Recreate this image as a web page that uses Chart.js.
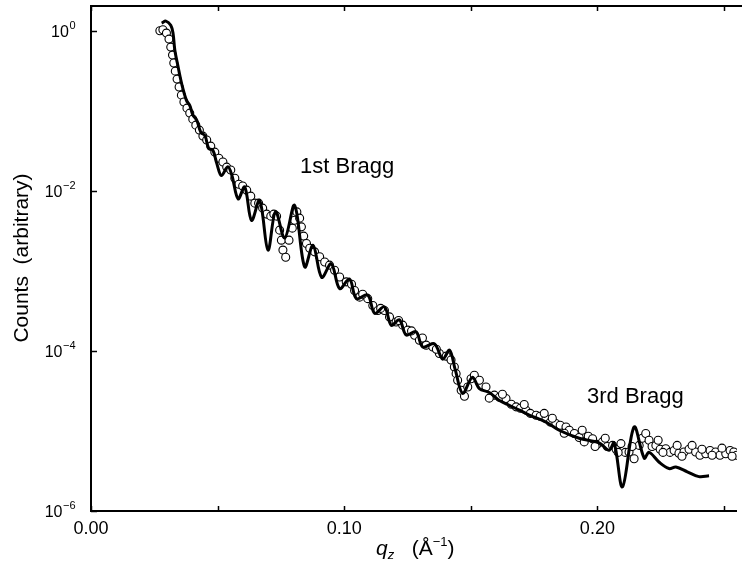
<!DOCTYPE html>
<html>
<head>
<meta charset="utf-8">
<script src="https://cdn.jsdelivr.net/npm/chart.js@4.4.1/dist/chart.umd.min.js"></script>
<style>
html, body { margin:0; padding:0; background:#fff; }
#wrap { position:relative; width:742px; height:564px; }
</style>
</head>
<body>
<div id="wrap"><canvas id="c" width="742" height="564"></canvas></div>
<script>
// measured reflectivity (open circles)
const qData = [
	0.0272,0.0284,0.0298,0.0308,0.0315,0.0322,0.0327,0.0333,0.0340,0.0348,
	0.0357,0.0367,0.0379,0.0390,0.0402,0.0414,0.0428,0.0442,0.0457,0.0473,
	0.0489,0.0505,0.0521,0.0536,0.0552,0.0568,0.0584,0.0599,0.0615,0.0631,
	0.0647,0.0662,0.0678,0.0694,0.0710,0.0722,0.0733,0.0745,0.0752,0.0758,
	0.0769,0.0782,0.0795,0.0804,0.0813,0.0824,0.0831,0.0840,0.0851,0.0864,
	0.0883,0.0903,0.0923,0.0942,0.0962,0.0982,0.1008,0.1029,0.1041,0.1061,
	0.1093,0.1113,0.1133,0.1159,0.1179,0.1205,0.1231,0.1251,0.1278,0.1297,
	0.1324,0.1350,0.1376,0.1403,0.1422,0.1435,0.1442,0.1448,0.1462,0.1475,
	0.1488,0.1501,0.1514,0.1534,0.1560,0.1593,0.1613,0.1639,0.1660,0.1679,
	0.1696,0.1718,0.1735,0.1758,0.1774,0.1797,0.1814,0.1836,0.1853,0.1876,
	0.1889,0.1909,0.1928,0.1948,0.1964,0.1981,0.1999,0.2020,0.2039,0.2060,
	0.2074,0.2093,0.2110,0.2125,0.2145,0.2165,0.2177,0.2191,0.2204,0.2216,
	0.2231,0.2248,0.2270,0.2287,0.2303,0.2322,0.2342,0.2362,0.2388,0.2405,
	0.2428,0.2445,0.2467,0.2484,0.2507,0.2524,0.2539,0.2550,
	// second row of the scattered band
	0.1073,0.1144,0.1215,0.1266,0.1309,0.1364,
	0.1573,0.1625,0.1711,0.1790,0.1822,0.1869,0.1940,0.1991,0.2031,0.2082,
	0.2137,0.2240,0.2259,0.2315,0.2334,0.2374,0.2413,0.2453,0.2492,0.2532
];
const countsData = [
	1.0,1.03,0.936,0.787,0.625,0.497,0.395,0.313,0.249,0.198,
	0.157,0.129,0.108,0.0936,0.0787,0.0662,0.0574,0.0483,0.0431,0.0362,
	0.0305,0.0256,0.0229,0.0198,0.0182,0.0144,0.0121,0.0115,0.0102,0.00859,
	0.00702,0.00702,0.00608,0.00512,0.00483,0.00512,0.00483,0.00323,0.00242,0.00182,
	0.00148,0.00242,0.00342,0.0043,0.00546,0.00456,0.00355,0.00272,0.0022,0.00192,
	0.00173,0.0015,0.00129,0.00118,0.00102,8.4e-4,7.3e-4,6.8e-4,5.7e-4,4.7e-4,
	4.5e-4,3.7e-4,3.2e-4,3.2e-4,2.66e-4,2.3e-4,2.1e-4,1.82e-4,1.57e-4,1.36e-4,
	1.18e-4,1.12e-4,9.3e-5,8.6e-5,7.7e-5,6.3e-5,5.2e-5,4.3e-5,3.23e-5,2.72e-5,
	3.55e-5,4.5e-5,4.97e-5,4.3e-5,3.55e-5,2.8e-5,2.64e-5,2.54e-5,2.16e-5,2.0e-5,
	1.92e-5,1.82e-5,1.66e-5,1.57e-5,1.53e-5,1.43e-5,1.29e-5,1.24e-5,1.18e-5,1.12e-5,
	1.02e-5,9.3e-6,8.3e-6,7.3e-6,8.6e-6,8.0e-6,6.8e-6,7.3e-6,6.4e-6,6.6e-6,
	5.9e-6,6.95e-6,5.4e-6,5.46e-6,4.5e-6,6.6e-6,8.1e-6,9.3e-6,7.65e-6,6.4e-6,
	6.6e-6,5.9e-6,6.0e-6,5.4e-6,5.7e-6,5.26e-6,5.46e-6,5.9e-6,5.46e-6,4.97e-6,
	5.2e-6,5.7e-6,5.46e-6,4.97e-6,5.2e-6,5.7e-6,5.46e-6,4.97e-6,
	5.1e-4,3.4e-4,2.4e-4,1.78e-4,1.45e-4,1.05e-4,
	2.57e-5,2.88e-5,2.14e-5,1.66e-5,1.44e-5,9.35e-6,1.02e-5,6.4e-6,8.1e-6,5.4e-6,
	6.4e-6,7.65e-6,5.4e-6,6.6e-6,4.83e-6,6.6e-6,5.9e-6,4.97e-6,6.1e-6,4.83e-6
];

// model fit (solid line)
const qFit = [
	0.0279,0.0296,0.0315,0.0324,0.0331,0.0344,0.0358,0.0377,0.0390,0.0402,
	0.0418,0.0434,0.0450,0.0465,0.0481,0.0497,0.0515,0.0540,0.0556,0.0581,
	0.0607,0.0634,0.0666,0.0699,0.0729,0.0765,0.0804,0.0844,0.0877,0.0911,
	0.0949,0.0982,0.1021,0.1048,0.1093,0.1120,0.1159,0.1186,0.1218,0.1245,
	0.1284,0.1310,0.1356,0.1389,0.1416,0.1439,0.1468,0.1506,0.1534,0.1573,
	0.1613,0.1652,0.1692,0.1731,0.1797,0.1849,0.1928,0.2007,0.2046,0.2066,
	0.2099,0.2145,0.2185,0.2204,0.2244,0.2283,0.2310,0.2355,0.2401,0.2441
];
const countsFit = [
	1.25,1.32,1.17,0.933,0.575,0.355,0.219,0.135,0.117,0.0891,
	0.0759,0.0537,0.049,0.0339,0.0324,0.0219,0.0155,0.020,0.0158,0.00794,
	0.0112,0.00427,0.00759,0.00182,0.0055,0.00257,0.0066,0.00112,0.00209,8.3e-4,
	1.23e-3,6.0e-4,7.9e-4,4.5e-4,5.0e-4,2.95e-4,3.55e-4,2.09e-4,2.45e-4,1.58e-4,
	1.74e-4,1.12e-4,1.23e-4,7.9e-5,1.02e-4,5.75e-5,2.95e-5,4.68e-5,3.39e-5,3.02e-5,
	2.4e-5,2.09e-5,1.82e-5,1.58e-5,1.29e-5,1.02e-5,8.1e-6,7.1e-6,5.75e-6,7.1e-6,
	2.0e-6,1.12e-5,4.57e-6,5.4e-6,4.07e-6,3.39e-6,3.55e-6,3.09e-6,2.69e-6,2.75e-6
];

const xTicks = [0, 0.05, 0.10, 0.15, 0.20, 0.25];
const xTickLabels = ['0.00', '', '0.10', '', '0.20', ''];
const yTicks = [1e-6, 1e-4, 1e-2, 1];
const yTickExp = ['\u22126', '\u22124', '\u22122', '0'];

const FONT = '"Liberation Sans", Arial, Helvetica, sans-serif';

const frame = {
	id: 'frame',
	afterDraw(chart) {
		const {ctx, chartArea: a, scales: {x, y}} = chart;
		ctx.save();
		ctx.strokeStyle = '#000';
		ctx.fillStyle = '#000';

		// top frame line
		ctx.lineWidth = 2;
		ctx.beginPath(); ctx.moveTo(a.left - 1, a.top); ctx.lineTo(742, a.top); ctx.stroke();

		// inward ticks
		ctx.lineWidth = 1.5;
		xTicks.forEach(v => {
			const px = Math.round(x.getPixelForValue(v)) + 0.5;
			ctx.beginPath();
			ctx.moveTo(px, a.bottom); ctx.lineTo(px, a.bottom - 5);
			ctx.moveTo(px, a.top); ctx.lineTo(px, a.top + 5);
			ctx.stroke();
		});
		yTicks.forEach(v => {
			const py = Math.round(y.getPixelForValue(v)) + 0.5;
			ctx.beginPath(); ctx.moveTo(a.left, py); ctx.lineTo(a.left + 6, py); ctx.stroke();
		});

		// y tick labels, 10 with superscript exponent
		ctx.textBaseline = 'alphabetic';
		ctx.textAlign = 'left';
		yTicks.forEach((v, i) => {
			const py = y.getPixelForValue(v);
			ctx.font = '11px ' + FONT;
			const ew = ctx.measureText(yTickExp[i]).width;
			ctx.font = '16px ' + FONT;
			const bw = ctx.measureText('10').width;
			const x0 = 75 - ew - bw;
			ctx.fillText('10', x0, py + 6);
			ctx.font = '11px ' + FONT;
			ctx.fillText(yTickExp[i], x0 + bw + 0.5, py - 2);
		});

		// y title
		ctx.save();
		ctx.translate(28, 258);
		ctx.rotate(-Math.PI / 2);
		ctx.textAlign = 'center';
		ctx.font = '21px ' + FONT;
		ctx.fillText('Counts  (arbitrary)', 0, 0);
		ctx.restore();

		// x title: q_z (Å^-1)
		const parts = [
			{t: 'q', f: 'italic 21px ', dy: 0},
			{t: 'z', f: 'italic 13px ', dy: 4},
			{t: '   (\u00C5', f: '21px ', dy: 0},
			{t: '\u22121', f: '13px ', dy: -9},
			{t: ')', f: '21px ', dy: 0}
		];
		let cx = 376;
		ctx.textAlign = 'left';
		parts.forEach(p => {
			ctx.font = p.f + FONT;
			ctx.fillText(p.t, cx, 555 + p.dy);
			cx += ctx.measureText(p.t).width;
		});

		// annotations
		ctx.font = '22px ' + FONT;
		ctx.fillText('1st Bragg', 300, 173);
		ctx.fillText('3rd Bragg', 587, 403);
		ctx.restore();
	}
};

new Chart(document.getElementById('c'), {
	type: 'scatter',
	data: {
		datasets: [
			{
				label: 'fit',
				data: qFit.map((q, i) => ({x: q, y: countsFit[i]})),
				showLine: true,
				borderColor: '#000',
				borderWidth: 3,
				pointRadius: 0,
				tension: 0.35,
			},
			{
				label: 'data',
				data: qData.map((q, i) => ({x: q, y: countsData[i]})),
				pointStyle: 'circle',
				pointRadius: 4,
				pointBorderWidth: 1.1,
				pointBorderColor: '#000',
				pointBackgroundColor: '#fff',
				showLine: false,
			}
		]
	},
	options: {
		responsive: false,
		animation: false,
		devicePixelRatio: 1,
		layout: { padding: { top: 6, right: 0, left: 0, bottom: 0 } },
		plugins: { legend: { display: false }, tooltip: { enabled: false } },
		scales: {
			x: {
				type: 'linear',
				min: 0,
				max: 0.2551,
				afterBuildTicks: s => { s.ticks = xTicks.map(v => ({value: v})); },
				afterFit: s => { s.height = 53; },
				grid: { display: true, drawOnChartArea: false, drawTicks: false },
				border: { display: true, color: '#000', width: 2 },
				ticks: {
					color: '#000',
					padding: 7,
					maxRotation: 0,
					autoSkip: false,
					font: { family: FONT, size: 18 },
					callback: (v, i) => xTickLabels[i]
				}
			},
			y: {
				type: 'logarithmic',
				min: 1e-6,
				max: 2.04,
				afterBuildTicks: s => { s.ticks = yTicks.map(v => ({value: v})); },
				afterFit: s => { s.width = 91; },
				grid: { display: true, drawOnChartArea: false, drawTicks: false },
				border: { display: true, color: '#000', width: 2 },
				ticks: { display: false }
			}
		}
	},
	plugins: [frame]
});
</script>
</body>
</html>
